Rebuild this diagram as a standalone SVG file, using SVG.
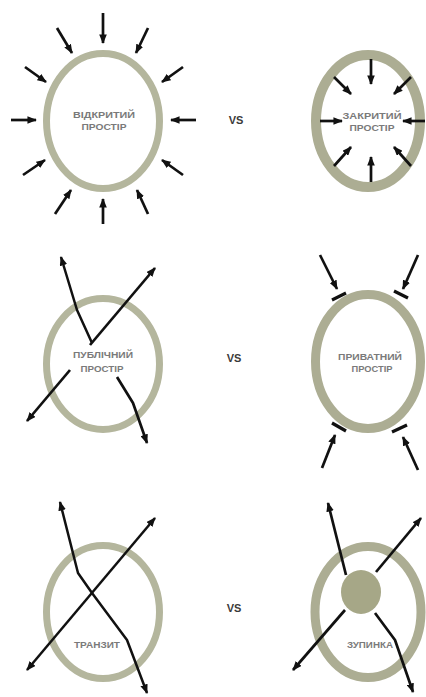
<svg xmlns="http://www.w3.org/2000/svg" width="426" height="697" viewBox="0 0 426 697">
<style>
.ring{fill:none;stroke:#acad93}
.ring.lt{stroke:#b4b69d}
.lbl{font-family:"Liberation Sans",Arial,sans-serif;font-size:9px;font-weight:bold;fill:#7a7a7a;text-anchor:middle}
.vs{font-family:"Liberation Sans",Arial,sans-serif;font-size:11px;font-weight:bold;fill:#3a3a3a;text-anchor:middle}
.ar{fill:none;stroke:#111;stroke-width:2.7;stroke-linejoin:round;marker-end:url(#ah)}
.ar2{fill:none;stroke:#111;stroke-width:2.5;stroke-linejoin:round;marker-end:url(#ah);marker-start:url(#ah)}
.ln{fill:none;stroke:#111;stroke-width:2.5;stroke-linejoin:round}
.bar{stroke:#111;stroke-width:3.2;stroke-linecap:butt}
</style>
<defs>
<marker id="ah" viewBox="0 0 10 8" refX="9" refY="4" markerWidth="9.5" markerHeight="7.6" markerUnits="userSpaceOnUse" orient="auto-start-reverse">
<path d="M0,0 L10,4 L0,8 z" fill="#111"/>
</marker>
</defs>
<rect width="426" height="697" fill="#fff"/>

<g id="open-space">
<ellipse class="ring lt" cx="103" cy="121" rx="56.5" ry="67.5" stroke-width="7"/>
<text class="lbl" x="104" y="118" textLength="62" lengthAdjust="spacingAndGlyphs">ВІДКРИТИЙ</text>
<text class="lbl" x="104" y="130" textLength="45" lengthAdjust="spacingAndGlyphs">ПРОСТІР</text>
</g>
<g id="vs-1"><text class="vs" x="236" y="124">VS</text></g>
<g id="closed-space">
<ellipse class="ring" cx="368" cy="121" rx="52" ry="66" stroke-width="10"/>
<text class="lbl" x="372" y="119" textLength="59" lengthAdjust="spacingAndGlyphs">ЗАКРИТИЙ</text>
<text class="lbl" x="372" y="131" textLength="45" lengthAdjust="spacingAndGlyphs">ПРОСТІР</text>
</g>

<g id="public-space">
<ellipse class="ring lt" cx="103" cy="364" rx="56.5" ry="65.5" stroke-width="7"/>
<text class="lbl" x="103" y="358" textLength="60" lengthAdjust="spacingAndGlyphs">ПУБЛІЧНИЙ</text>
<text class="lbl" x="102" y="372" textLength="43" lengthAdjust="spacingAndGlyphs">ПРОСТІР</text>
</g>
<g id="vs-2"><text class="vs" x="234" y="362">VS</text></g>
<g id="private-space">
<ellipse class="ring" cx="368" cy="361.5" rx="52.5" ry="67" stroke-width="9"/>
<text class="lbl" x="370" y="360" textLength="64" lengthAdjust="spacingAndGlyphs">ПРИВАТНИЙ</text>
<text class="lbl" x="372" y="372" textLength="41" lengthAdjust="spacingAndGlyphs">ПРОСТІР</text>
</g>

<g id="transit">
<ellipse class="ring lt" cx="103" cy="612" rx="56.5" ry="66.5" stroke-width="7"/>
<text class="lbl" x="97" y="648" textLength="46" lengthAdjust="spacingAndGlyphs">ТРАНЗИТ</text>
</g>
<g id="vs-3"><text class="vs" x="234" y="612">VS</text></g>
<g id="stop">
<ellipse class="ring" cx="368" cy="612" rx="53" ry="65.5" stroke-width="9"/>
<ellipse cx="361" cy="592" rx="20" ry="22" fill="#a6a787"/>
<text class="lbl" x="370" y="648" textLength="46" lengthAdjust="spacingAndGlyphs">ЗУПИНКА</text>
</g>

<g id="connectors">
<!-- open space: inward arrows -->
<line class="ar" x1="103" y1="13" x2="103" y2="43"/>
<line class="ar" x1="103" y1="224" x2="103" y2="199"/>
<line class="ar" x1="11" y1="120" x2="36" y2="120"/>
<line class="ar" x1="196" y1="120" x2="171" y2="120"/>
<line class="ar" x1="57" y1="28" x2="72" y2="53"/>
<line class="ar" x1="25" y1="67" x2="46" y2="82"/>
<line class="ar" x1="148" y1="28" x2="136" y2="53"/>
<line class="ar" x1="183" y1="67" x2="162" y2="82"/>
<line class="ar" x1="23" y1="175" x2="45" y2="160"/>
<line class="ar" x1="55" y1="214" x2="71" y2="190"/>
<line class="ar" x1="183" y1="175" x2="162" y2="160"/>
<line class="ar" x1="148" y1="214" x2="137" y2="190"/>
<!-- closed space: inner arrows -->
<line class="ar" x1="371" y1="59" x2="371" y2="84"/>
<line class="ar" x1="371" y1="182" x2="371" y2="157"/>
<line class="ar" x1="320" y1="121" x2="342" y2="121"/>
<line class="ar" x1="425" y1="121" x2="403" y2="121"/>
<line class="ar" x1="334" y1="77" x2="351" y2="94"/>
<line class="ar" x1="411" y1="77" x2="394" y2="94"/>
<line class="ar" x1="334" y1="166" x2="351" y2="147"/>
<line class="ar" x1="411" y1="166" x2="394" y2="147"/>
<!-- public space -->
<polyline class="ln" points="92,343 77,310 61,257" marker-end="url(#ah)"/>
<line class="ar" x1="90" y1="345" x2="155" y2="268"/>
<line class="ar" x1="70" y1="370" x2="27" y2="421"/>
<polyline class="ar" points="117,377 133,403 147,443"/>
<!-- private space: blocked arrows -->
<line class="ar" x1="320" y1="255" x2="337" y2="289"/>
<line class="bar" x1="332" y1="300" x2="346" y2="293"/>
<line class="ar" x1="418" y1="255" x2="403" y2="289"/>
<line class="bar" x1="394" y1="291" x2="408" y2="298"/>
<line class="ar" x1="322" y1="468" x2="335" y2="435"/>
<line class="bar" x1="332" y1="423" x2="346" y2="431"/>
<line class="ar" x1="418" y1="470" x2="403" y2="437"/>
<line class="bar" x1="392" y1="432" x2="407" y2="425"/>
<!-- transit -->
<polyline class="ar2" points="60,502 78,573 92,593 127,640 147,693"/>
<line class="ar2" x1="27" y1="670" x2="155" y2="518"/>
<!-- stop -->
<line class="ar" x1="346" y1="575" x2="328" y2="503"/>
<line class="ar" x1="376" y1="572" x2="421" y2="518"/>
<line class="ar" x1="345" y1="610" x2="293" y2="670"/>
<polyline class="ar" points="375,613 395,640 413,692"/>
</g>
</svg>
